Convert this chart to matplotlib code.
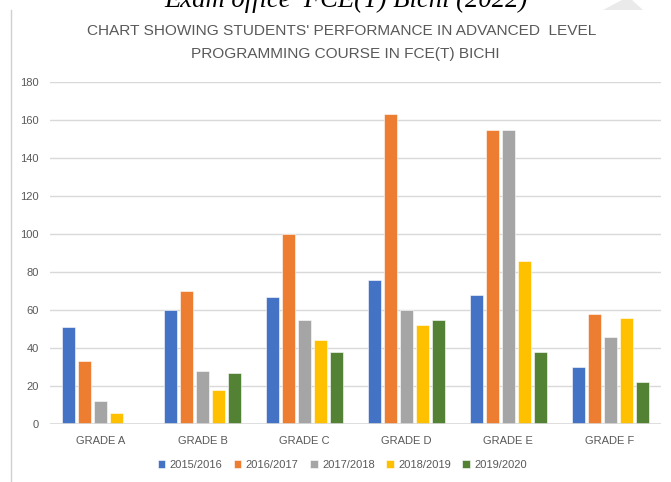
import matplotlib

matplotlib.use("Agg")

import matplotlib.pyplot as plt
from matplotlib.lines import Line2D
from matplotlib.patches import Polygon
import numpy as np

GRADES = ["GRADE A", "GRADE B", "GRADE C", "GRADE D", "GRADE E", "GRADE F"]
SESSIONS = ["2015/2016", "2016/2017", "2017/2018", "2018/2019", "2019/2020"]
S2015 = [51, 60, 67, 76, 68, 30]
S2016 = [33, 70, 100, 163, 155, 58]
S2017 = [12, 28, 55, 60, 155, 46]
S2018 = [6, 18, 44, 52, 86, 56]
S2019 = [0, 27, 38, 55, 38, 22]
YTICKS = [0, 20, 40, 60, 80, 100, 120, 140, 160, 180]

COLORS = ["#4472C4", "#ED7D31", "#A5A5A5", "#FFC000", "#548235"]
SANS = ["Liberation Sans Narrow", "Liberation Sans", "DejaVu Sans"]
TXT = "#595959"

W, H = 671, 482
fig = plt.figure(figsize=(W / 100, H / 100), dpi=100)
ax = fig.add_axes([50 / W, (H - 424) / H, 611 / W, 342 / H])

series = [S2015, S2016, S2017, S2018, S2019]
x = np.arange(len(GRADES))
pitch = 0.157
width = 0.128
for k, (vals, col, lab) in enumerate(zip(series, COLORS, SESSIONS)):
    ax.bar(x + (k - 2) * pitch, vals, width, color=col, label=lab,
           edgecolor="white", linewidth=0.4, zorder=3)

ax.set_xlim(-0.5, len(GRADES) - 0.5)
ax.set_ylim(0, 180)
ax.set_yticks(YTICKS)
ax.set_xticks(x)
ax.set_xticklabels(GRADES)
ax.grid(axis="y", color="#D9D9D9", linewidth=1.0, zorder=0)
ax.tick_params(length=0, colors=TXT, labelsize=8, pad=8)
for lbl in ax.get_xticklabels() + ax.get_yticklabels():
    lbl.set_family(SANS)
ax.tick_params(axis="x", pad=9)
for s in ax.spines.values():
    s.set_visible(False)
ax.axhline(0, color="#D9D9D9", linewidth=1.2, zorder=4)

fig.text(342 / W, (H - 31) / H, "CHART SHOWING STUDENTS' PERFORMANCE IN ADVANCED  LEVEL",
         ha="center", va="center", fontsize=11.1, color=TXT, family=SANS)
fig.text(345 / W, (H - 54) / H, "PROGRAMMING COURSE IN FCE(T) BICHI",
         ha="center", va="center", fontsize=11.1, color=TXT, family=SANS)

# header line from the page, cut off by the crop
fig.text(346 / W, (H - 7) / H, "Exam office  FCE(T) Bichi (2022)", ha="center",
         va="baseline", fontsize=19.2, style="italic",
         family=["Liberation Serif", "DejaVu Serif"], color="black")

# page border remnants
fig.add_artist(Line2D([11 / W, 11 / W], [0, (H - 10) / H], color="#D0D0D0", linewidth=1.0))
fig.add_artist(Polygon([(603 / W, (H - 10) / H), (622 / W, 1.0), (632 / W, 1.0),
                        (643 / W, (H - 10) / H), (630 / W, (H - 10) / H)],
                       closed=True, facecolor="#EAEAEA", edgecolor="none",
                       transform=fig.transFigure))

leg = fig.legend(loc="center", bbox_to_anchor=(0.51, (H - 465) / H), ncol=5,
                 frameon=False, fontsize=8, handlelength=0.7, handleheight=0.7,
                 handletextpad=0.4, columnspacing=1.0)
for t in leg.get_texts():
    t.set_color(TXT)
    t.set_family(SANS)

fig.savefig("out.png", dpi=100)
